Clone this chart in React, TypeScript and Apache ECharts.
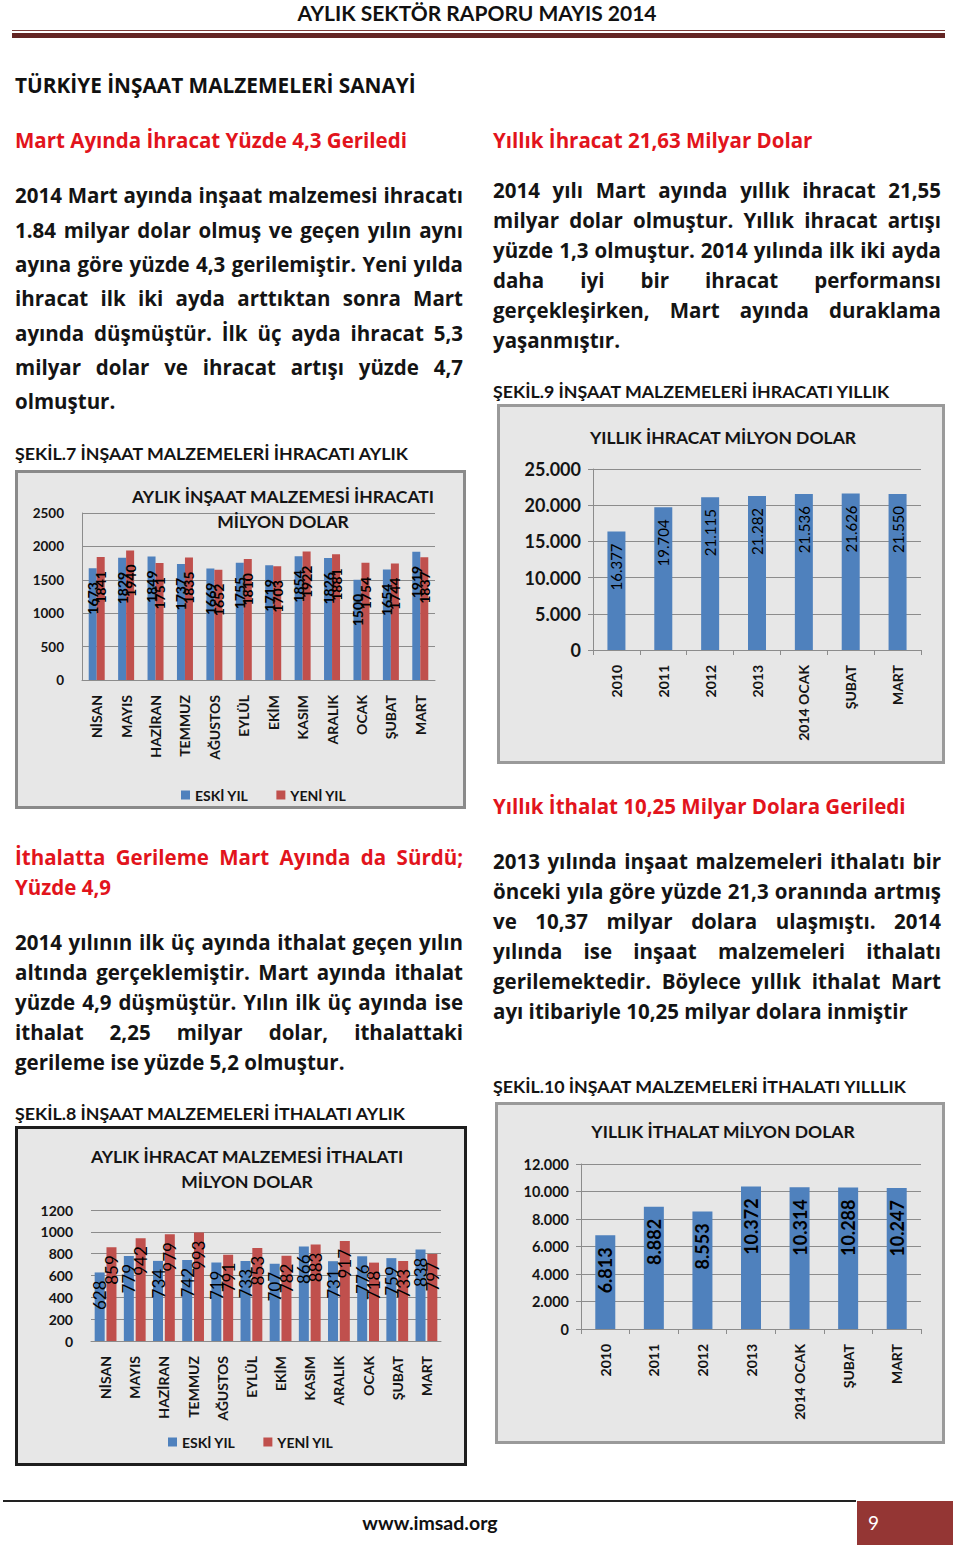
import React, { useEffect, useRef } from "react";
import * as echarts from "echarts";

const FONT = "Lato, 'Liberation Sans', sans-serif";
const BODY = "'Open Sans', 'Noto Sans', sans-serif";
const BLUE = "#4f81bd";
const RED = "#c0504d";
const GRID = "#8c8c8c";
const TXT = "#141414";
const HEAD_RED = "#e2141c";

// ---------- DATA ----------
const MONTHS = ["NİSAN", "MAYIS", "HAZİRAN", "TEMMUZ", "AĞUSTOS", "EYLÜL", "EKİM", "KASIM", "ARALIK", "OCAK", "ŞUBAT", "MART"];
const SERIES_NAMES = ["ESKİ YIL", "YENİ YIL"];
const EXPORT_OLD = [1673, 1829, 1849, 1737, 1669, 1755, 1719, 1854, 1826, 1500, 1654, 1919];
const EXPORT_NEW = [1841, 1940, 1751, 1835, 1652, 1810, 1703, 1922, 1881, 1754, 1744, 1837];
const IMPORT_OLD = [628, 779, 734, 742, 719, 733, 707, 866, 731, 776, 759, 838];
const IMPORT_NEW = [859, 942, 979, 993, 791, 853, 782, 883, 917, 718, 733, 797];
const YEARS = ["2010", "2011", "2012", "2013", "2014 OCAK", "ŞUBAT", "MART"];
const EXPORT_YEARLY = [16377, 19704, 21115, 21282, 21536, 21626, 21550];
const IMPORT_YEARLY = [6813, 8882, 8553, 10372, 10314, 10288, 10247];

const fmtDot = (v: number) => String(v).replace(/\B(?=(\d{3})+(?!\d))/g, ".");

// ---------- OPTIONS ----------
function monthlyOption(cfg: any) {
  return {
    animation: false,
    textStyle: { fontFamily: FONT },
    title: {
      text: cfg.title,
      left: cfg.titleX,
      top: cfg.titleTop,
      textAlign: "center",
      textStyle: { fontFamily: FONT, fontSize: 17.5, fontWeight: "bold", color: TXT, lineHeight: 25 },
    },
    legend: {
      data: SERIES_NAMES,
      left: cfg.legendLeft,
      top: cfg.legendTop,
      icon: "rect",
      itemWidth: 9,
      itemHeight: 9,
      itemGap: 28,
      textStyle: { fontFamily: FONT, fontSize: 14, fontWeight: "bold", color: TXT },
    },
    grid: cfg.grid,
    xAxis: {
      type: "category",
      data: MONTHS,
      axisLine: { lineStyle: { color: GRID } },
      axisTick: { show: false },
      axisLabel: { rotate: 90, interval: 0, fontFamily: FONT, fontSize: 14, fontWeight: "bold", color: TXT, margin: 15 },
    },
    yAxis: {
      type: "value",
      min: 0,
      max: cfg.max,
      interval: cfg.interval,
      axisLine: { show: cfg.yLine, lineStyle: { color: GRID } },
      axisTick: { show: false },
      splitLine: { lineStyle: { color: GRID } },
      axisLabel: { fontFamily: FONT, fontSize: cfg.yFont, fontWeight: "bold", color: TXT, margin: 18, formatter: (v: number) => String(v) },
    },
    series: [cfg.old, cfg.new].map((d: number[], i: number) => ({
      name: SERIES_NAMES[i],
      type: "bar",
      data: d,
      barWidth: cfg.barWidth,
      barGap: cfg.barGap,
      itemStyle: { color: i === 0 ? BLUE : RED },
      label: {
        show: true,
        position: "insideTop",
        rotate: 90,
        align: "right",
        verticalAlign: "middle",
        distance: cfg.labelDist,
        fontFamily: FONT,
        fontSize: cfg.labelFont,
        fontWeight: cfg.labelWeight,
        color: "#000",
      },
    })),
  };
}

function yearlyOption(cfg: any) {
  return {
    animation: false,
    textStyle: { fontFamily: FONT },
    title: {
      text: cfg.title,
      left: cfg.titleX,
      top: cfg.titleTop,
      textAlign: "center",
      textStyle: { fontFamily: FONT, fontSize: 17.5, fontWeight: "bold", color: TXT },
    },
    grid: cfg.grid,
    xAxis: {
      type: "category",
      data: YEARS,
      axisLine: { lineStyle: { color: GRID } },
      axisTick: { show: true, length: 5, lineStyle: { color: GRID } },
      axisLabel: { rotate: 90, interval: 0, fontFamily: FONT, fontSize: 14, fontWeight: "bold", color: TXT, margin: 15 },
    },
    yAxis: {
      type: "value",
      min: 0,
      max: cfg.max,
      interval: cfg.interval,
      axisLine: { show: true, lineStyle: { color: GRID } },
      axisTick: { show: true, length: 5, lineStyle: { color: GRID } },
      splitLine: { lineStyle: { color: GRID } },
      axisLabel: { fontFamily: FONT, fontSize: cfg.yFont, fontWeight: "bold", color: TXT, margin: 12, formatter: (v: number) => fmtDot(v) },
    },
    series: [
      {
        type: "bar",
        data: cfg.data,
        barWidth: cfg.barWidth,
        itemStyle: { color: BLUE },
        label: {
          show: true,
          position: "insideTop",
          rotate: 90,
          align: "right",
          verticalAlign: "middle",
          distance: cfg.labelDist,
          fontFamily: FONT,
          fontSize: cfg.labelFont,
          fontWeight: cfg.labelWeight,
          color: "#000",
          formatter: (p: any) => fmtDot(p.value),
        },
      },
    ],
  };
}

// ---------- COMPONENTS ----------
function Chart({ option, w, h }: { option: any; w: number; h: number }) {
  const ref = useRef<HTMLDivElement>(null);
  useEffect(() => {
    const c = echarts.init(ref.current as HTMLDivElement, null, { renderer: "svg" });
    c.setOption(option);
    return () => c.dispose();
  }, []);
  return <div ref={ref} style={{ width: w, height: h }} />;
}

function Box({ x, y, w, h, border, bw, children }: any) {
  return (
    <div
      style={{
        position: "absolute",
        left: x,
        top: y,
        width: w,
        height: h,
        boxSizing: "border-box",
        border: `${bw}px solid ${border}`,
        background: "#e7e7e7",
      }}
    >
      {children}
    </div>
  );
}

function L({ x, y, w = 448, t, j = false, size = 20.5, color = TXT, lh = 30, weight = "bold", center = false, font = BODY }: any) {
  return (
    <div
      style={{
        position: "absolute",
        left: x,
        top: y - lh / 2,
        width: w,
        height: lh,
        lineHeight: `${lh}px`,
        fontSize: size,
        fontWeight: weight,
        color,
        fontFamily: font,
        textAlign: center ? "center" : j ? "justify" : "left",
        textAlignLast: center ? "center" : j ? "justify" : "left",
        whiteSpace: j ? "normal" : "nowrap",
        overflow: "visible",
      } as any}
    >
      {t}
    </div>
  );
}

const LEFT_P1 = [
  "2014 Mart ayında inşaat malzemesi ihracatı",
  "1.84 milyar dolar olmuş ve geçen yılın aynı",
  "ayına göre yüzde 4,3 gerilemiştir. Yeni yılda",
  "ihracat ilk iki ayda arttıktan sonra Mart",
  "ayında düşmüştür. İlk üç ayda ihracat 5,3",
  "milyar dolar ve ihracat artışı yüzde 4,7",
  "olmuştur.",
];
const LEFT_P1_Y = [195, 230, 264, 298, 333, 367, 401];

const RIGHT_P1 = [
  "2014 yılı Mart ayında yıllık ihracat 21,55",
  "milyar dolar olmuştur. Yıllık ihracat artışı",
  "yüzde 1,3 olmuştur. 2014 yılında ilk iki ayda",
  "daha iyi bir ihracat performansı",
  "gerçekleşirken, Mart ayında duraklama",
  "yaşanmıştır.",
];
const LEFT_P2 = [
  "2014 yılının ilk üç ayında ithalat geçen yılın",
  "altında gerçeklemiştir. Mart ayında ithalat",
  "yüzde 4,9 düşmüştür.  Yılın ilk üç ayında ise",
  "ithalat 2,25 milyar dolar, ithalattaki",
  "gerileme ise yüzde 5,2 olmuştur.",
];
const RIGHT_P2 = [
  "2013 yılında inşaat malzemeleri ithalatı bir",
  "önceki yıla göre yüzde 21,3 oranında artmış",
  "ve 10,37 milyar dolara ulaşmıştı. 2014",
  "yılında ise inşaat malzemeleri ithalatı",
  "gerilemektedir. Böylece yıllık ithalat Mart",
  "ayı itibariyle 10,25 milyar dolara inmiştir",
];

export default function App() {
  const opt1 = monthlyOption({
    title: "AYLIK İNŞAAT MALZEMESİ İHRACATI\nMİLYON DOLAR",
    titleX: 260,
    titleTop: 6,
    legendLeft: 158,
    legendTop: 310,
    grid: { left: 64, right: 28, top: 40, bottom: 126 },
    max: 2500,
    interval: 500,
    yLine: true,
    yFont: 13.5,
    old: EXPORT_OLD,
    new: EXPORT_NEW,
    barWidth: 8,
    barGap: "0%",
    labelDist: 14,
    labelFont: 14,
    labelWeight: "bold",
  });
  const opt3 = monthlyOption({
    title: "AYLIK İHRACAT MALZEMESİ İTHALATI\nMİLYON DOLAR",
    titleX: 224,
    titleTop: 10,
    legendLeft: 145,
    legendTop: 301,
    grid: { left: 73, right: 23, top: 81, bottom: 122 },
    max: 1200,
    interval: 200,
    yLine: false,
    yFont: 14,
    old: IMPORT_OLD,
    new: IMPORT_NEW,
    barWidth: 10,
    barGap: "18%",
    labelDist: 8,
    labelFont: 17,
    labelWeight: "normal",
  });
  const opt2 = yearlyOption({
    title: "YILLIK İHRACAT MİLYON DOLAR",
    titleX: 218,
    titleTop: 16,
    grid: { left: 93, right: 21, top: 62, bottom: 111 },
    max: 25000,
    interval: 5000,
    yFont: 18,
    data: EXPORT_YEARLY,
    barWidth: 18,
    labelDist: 12,
    labelFont: 15,
    labelWeight: "normal",
  });
  const opt4 = yearlyOption({
    title: "YILLIK İTHALAT MİLYON DOLAR",
    titleX: 220,
    titleTop: 12,
    grid: { left: 83, right: 21, top: 59, bottom: 112 },
    max: 12000,
    interval: 2000,
    yFont: 14.5,
    data: IMPORT_YEARLY,
    barWidth: 20,
    labelDist: 12,
    labelFont: 18,
    labelWeight: "bold",
  });

  return (
    <div style={{ position: "absolute", left: 0, top: 0, width: 960, height: 1548, background: "#fff", overflow: "hidden", fontFamily: FONT }}>
      {/* header */}
      <L x={0} y={13} w={954} t="AYLIK SEKTÖR RAPORU MAYIS 2014" size={21} center lh={26} color="#111" font={FONT} />
      <div style={{ position: "absolute", left: 12, top: 30, width: 933, height: 1, background: "#7a3b38" }} />
      <div style={{ position: "absolute", left: 12, top: 33, width: 933, height: 5, background: "#632523" }} />

      <L x={15} y={85} t="TÜRKİYE İNŞAAT MALZEMELERİ SANAYİ" size={20.8} color="#111" />
      <L x={15} y={140} t="Mart Ayında İhracat Yüzde 4,3 Geriledi" color={HEAD_RED} />
      {LEFT_P1.map((t, i) => (
        <L key={"a" + i} x={15} y={LEFT_P1_Y[i]} t={t} j={i < LEFT_P1.length - 1} lh={34} />
      ))}
      <L x={15} y={453} t="ŞEKİL.7 İNŞAAT MALZEMELERİ İHRACATI AYLIK" size={17.8} font={FONT} />

      <L x={493} y={140} t="Yıllık İhracat 21,63 Milyar Dolar" color={HEAD_RED} />
      {RIGHT_P1.map((t, i) => (
        <L key={"b" + i} x={493} y={190 + 30 * i} t={t} j={i < RIGHT_P1.length - 1} />
      ))}
      <L x={493} y={391} t="ŞEKİL.9 İNŞAAT MALZEMELERİ İHRACATI YILLIK" size={17.8} font={FONT} />

      <L x={15} y={857} t="İthalatta Gerileme Mart Ayında da Sürdü;" j color={HEAD_RED} />
      <L x={15} y={887} t="Yüzde 4,9" color={HEAD_RED} />
      {LEFT_P2.map((t, i) => (
        <L key={"c" + i} x={15} y={942 + 30 * i} t={t} j={i < LEFT_P2.length - 1} />
      ))}
      <L x={15} y={1113} t="ŞEKİL.8 İNŞAAT MALZEMELERİ İTHALATI AYLIK" size={17.8} font={FONT} />

      <L x={493} y={806} t="Yıllık İthalat 10,25 Milyar Dolara Geriledi" color={HEAD_RED} />
      {RIGHT_P2.map((t, i) => (
        <L key={"d" + i} x={493} y={861 + 30 * i} t={t} j={i < RIGHT_P2.length - 1} />
      ))}
      <L x={493} y={1086} t="ŞEKİL.10 İNŞAAT MALZEMELERİ İTHALATI YILLLIK" size={17.8} font={FONT} />

      {/* charts */}
      <Box x={15} y={470} w={451} h={339} border="#8a8a8a" bw={3}>
        <Chart option={opt1} w={445} h={333} />
      </Box>
      <Box x={497} y={404} w={448} h={360} border="#9a9a9a" bw={3}>
        <Chart option={opt2} w={442} h={354} />
      </Box>
      <Box x={15} y={1126} w={452} h={340} border="#1e1e1e" bw={3}>
        <Chart option={opt3} w={446} h={334} />
      </Box>
      <Box x={495} y={1102} w={450} h={342} border="#9a9a9a" bw={3}>
        <Chart option={opt4} w={444} h={336} />
      </Box>

      {/* footer */}
      <div style={{ position: "absolute", left: 3, top: 1500, width: 853, height: 2, background: "#222" }} />
      <L x={330} y={1523} w={200} t="www.imsad.org" size={19.5} center color="#111" font={FONT} />
      <div style={{ position: "absolute", left: 857, top: 1501, width: 96, height: 44, background: "#943634" }} />
      <L x={868} y={1523} w={30} t="9" size={19} weight="normal" color="#fff" font={FONT} />
    </div>
  );
}
